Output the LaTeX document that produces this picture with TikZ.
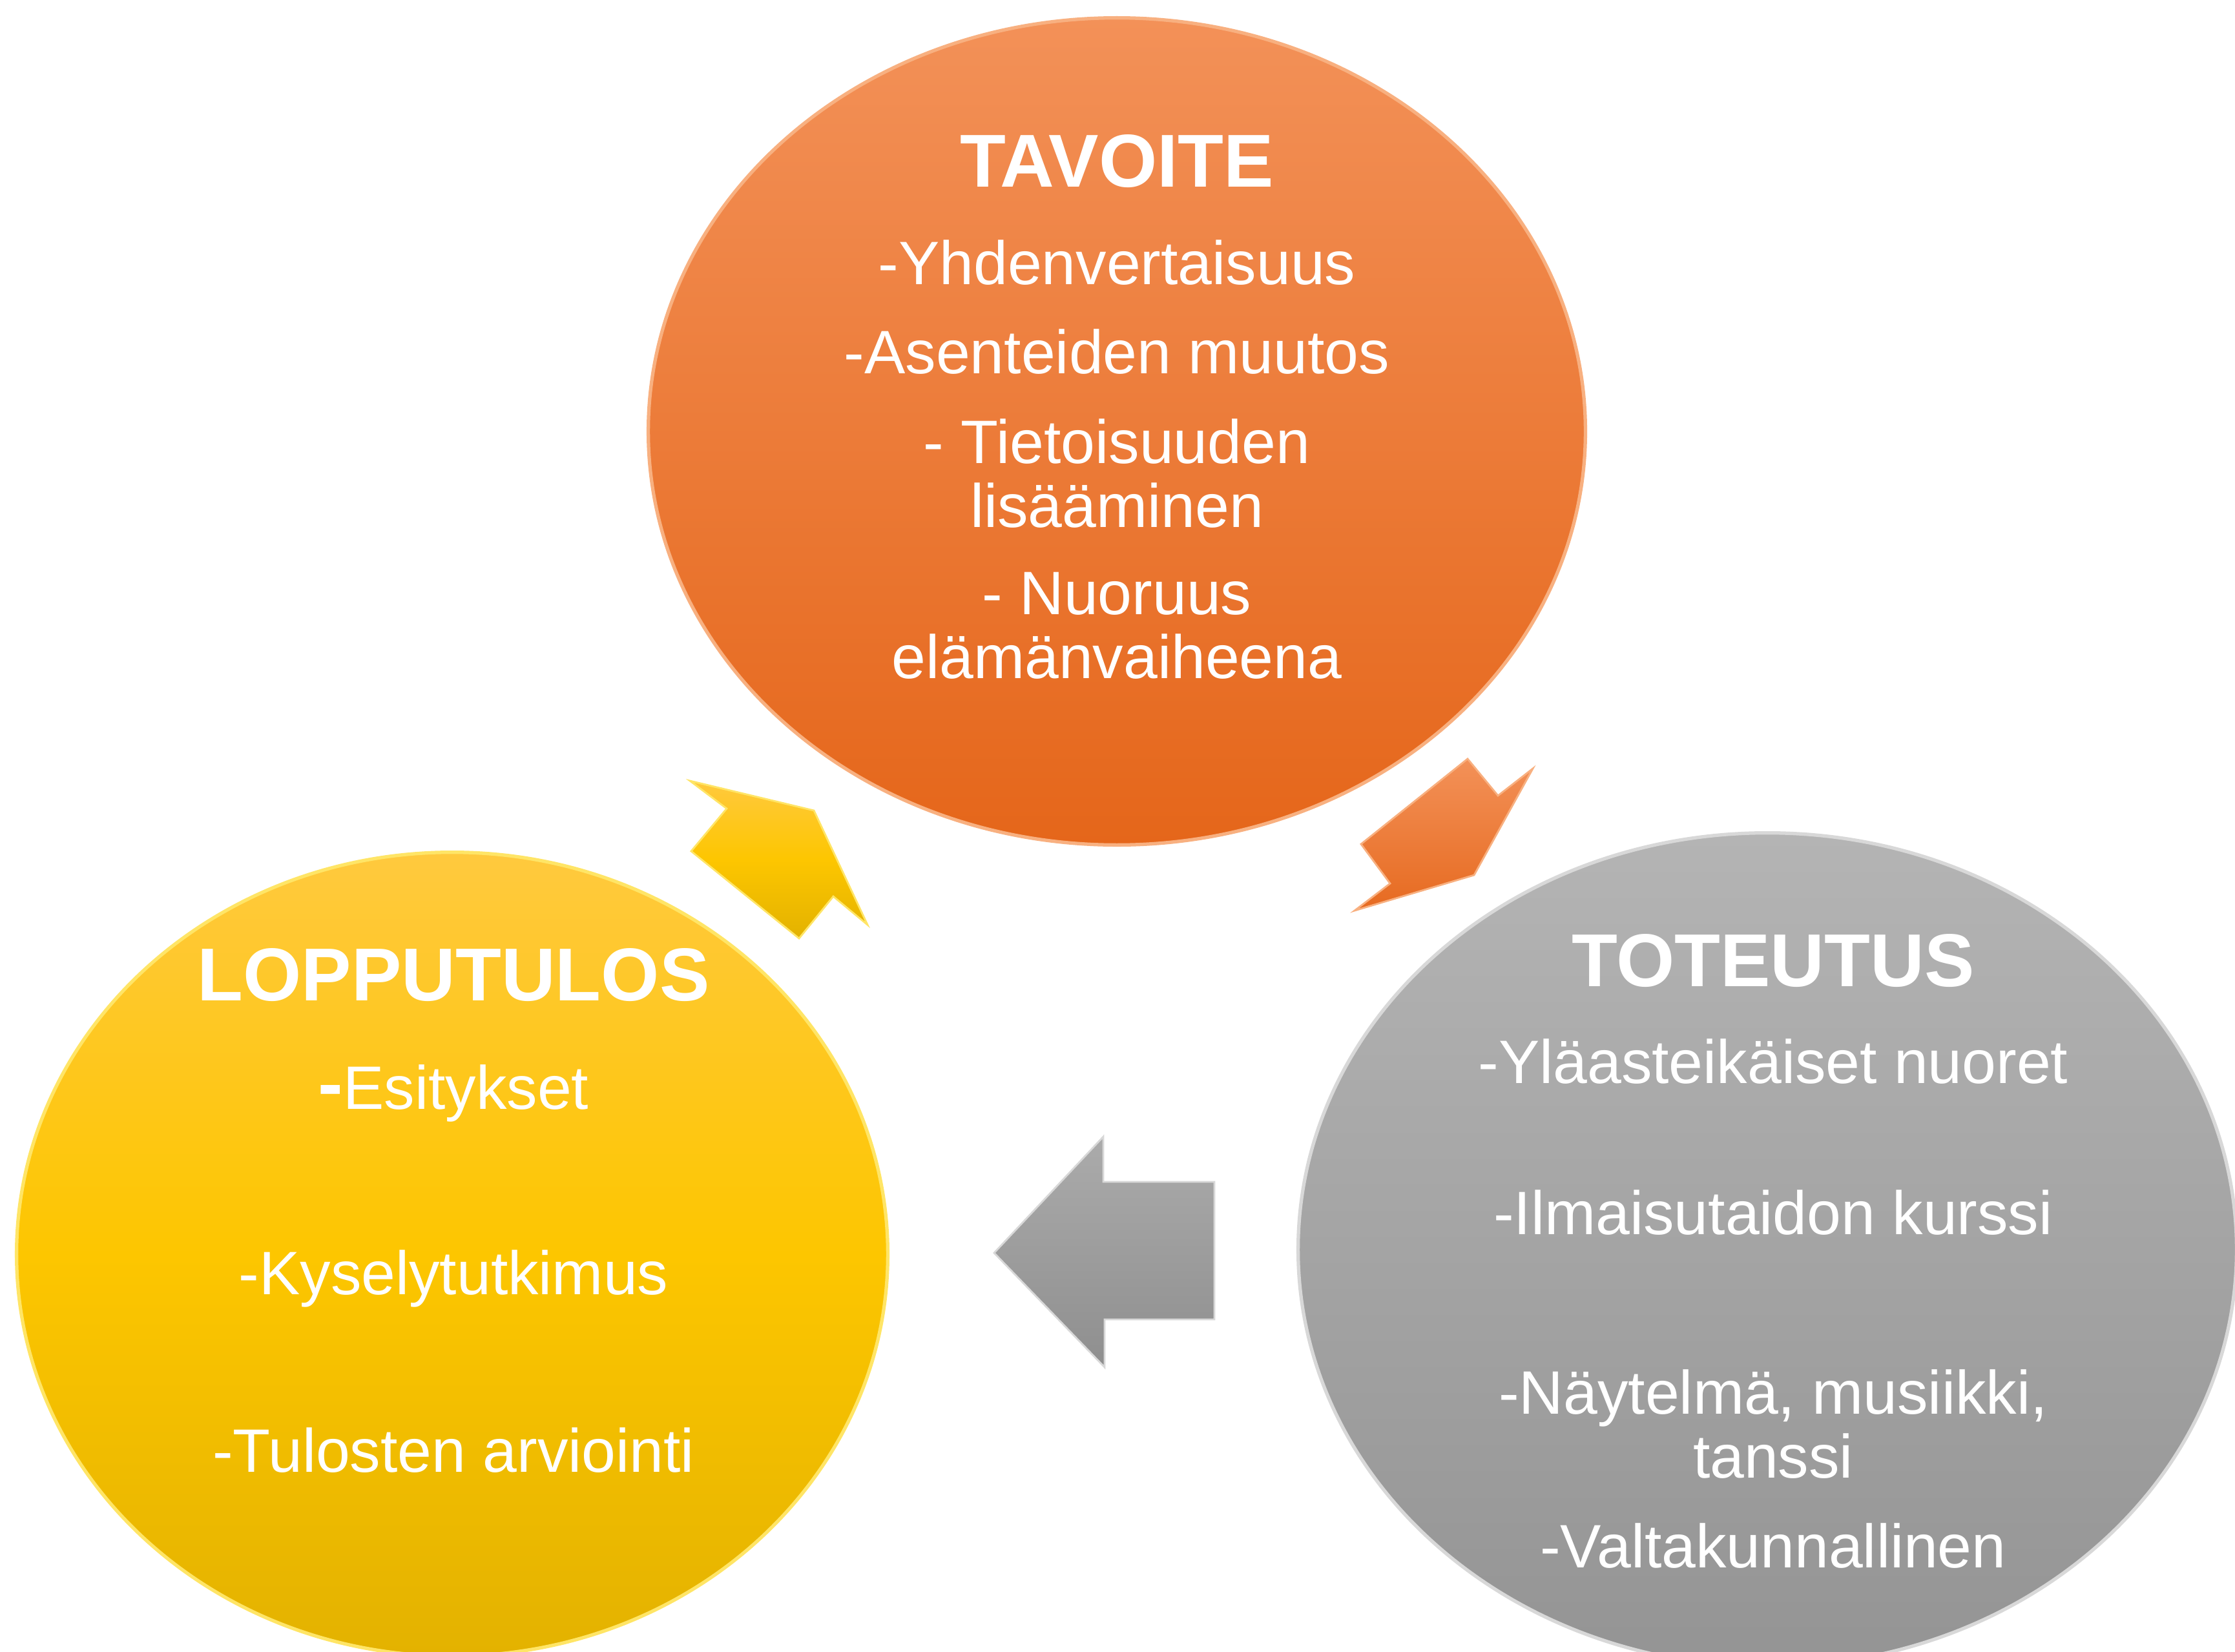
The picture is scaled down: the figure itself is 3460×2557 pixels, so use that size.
\documentclass[tikz,border=0pt]{standalone}
\usepackage{fontspec}
\setmainfont{Liberation Sans}
\definecolor{goal top}{HTML}{F39158}
\definecolor{goal bottom}{HTML}{E5661A}
\definecolor{goal rim}{HTML}{F8B080}
\definecolor{result top}{HTML}{FFC93E}
\definecolor{result mid}{HTML}{FDC600}
\definecolor{result bottom}{HTML}{E3B200}
\definecolor{result rim}{HTML}{FFE566}
\definecolor{work top}{HTML}{B4B4B4}
\definecolor{work bottom}{HTML}{949494}
\definecolor{work rim}{HTML}{D8D8D8}
\usetikzlibrary{shapes.geometric}
\tikzstyle{phase node}=[ellipse, inner sep=0pt, line width=1.5pt]
\tikzstyle{phase title}=[text=white, font=\fontsize{33}{36}\selectfont\bfseries, anchor=base]
\tikzstyle{phase item}=[text=white, font=\fontsize{27}{28}\selectfont, anchor=base, align=center]
\tikzstyle{block arrow}=[line width=0.8pt, line join=miter]

\begin{document}
\begin{tikzpicture}[x=0.01cm,y=-0.01cm]
        \useasboundingbox (0,0) rectangle (3460,2557);
        \begin{scope}
        \clip (0,0) rectangle (3460,2557);
        \node[phase node, minimum width=14.5cm, minimum height=12.8cm, top color=goal top, bottom color=goal bottom, draw=goal rim] (tavoite) at (1729,668) {};
        \node[phase node, minimum width=13.48cm, minimum height=12.44cm, top color=result top, bottom color=result bottom, middle color=result mid, draw=result rim] (lopputulos) at (700,1942) {};
        \node[phase node, minimum width=14.52cm, minimum height=12.9cm, top color=work top, bottom color=work bottom, draw=work rim] (toteutus) at (2736,1935) {};
        \end{scope}
        
        % arrows between phases
        \draw[block arrow, top color=goal top, bottom color=goal bottom!90!goal top, draw=goal rim] (2272,1175) -- (2319,1232) -- (2373,1190) -- (2282,1355) -- (2097,1410) -- (2152,1368) -- (2107,1307) -- cycle;
        \draw[block arrow, top color=work top!95!black, bottom color=work bottom!105!white, draw=work rim] (1539,1940) -- (1708,1760) -- (1708,1830) -- (1880,1830) -- (1880,2043) -- (1710,2043) -- (1710,2117) -- cycle;
        \draw[block arrow, top color=result top, bottom color=result bottom, middle color=result mid, draw=result rim] (1068,1209) -- (1260,1255) -- (1343,1432) -- (1290,1388) -- (1237,1453) -- (1070,1318) -- (1125,1252) -- cycle;
        
        % two-line items sit on the baseline of their last line
        \node[phase title] (tavoite-title) at (1729,289) {TAVOITE};
        \node[phase item] (tavoite-1) at (1729,440) {-Yhdenvertaisuus};
        \node[phase item] (tavoite-2) at (1729,578) {-Asenteiden muutos};
        \node[phase item] (tavoite-3) at (1729,816) {- Tietoisuuden\\lisääminen};
        \node[phase item] (tavoite-4) at (1729,1050) {- Nuoruus\\elämänvaiheena};
        
        \node[phase title] (toteutus-title) at (2745,1527) {TOTEUTUS};
        \node[phase item] (toteutus-1) at (2745,1677) {-Yläasteikäiset nuoret};
        \node[phase item] (toteutus-2) at (2745,1911) {-Ilmaisutaidon kurssi};
        \node[phase item] (toteutus-3) at (2745,2288) {-Näytelmä, musiikki,\\tanssi};
        \node[phase item] (toteutus-4) at (2745,2427) {-Valtakunnallinen};
        
        \node[phase title] (lopputulos-title) at (702,1549) {LOPPUTULOS};
        \node[phase item] (lopputulos-1) at (702,1717) {{\fontsize{33}{36}\selectfont\bfseries -}Esitykset};
        \node[phase item] (lopputulos-2) at (702,2004) {-Kyselytutkimus};
        \node[phase item] (lopputulos-3) at (702,2279) {-Tulosten arviointi};
    \end{tikzpicture}
\end{document}
